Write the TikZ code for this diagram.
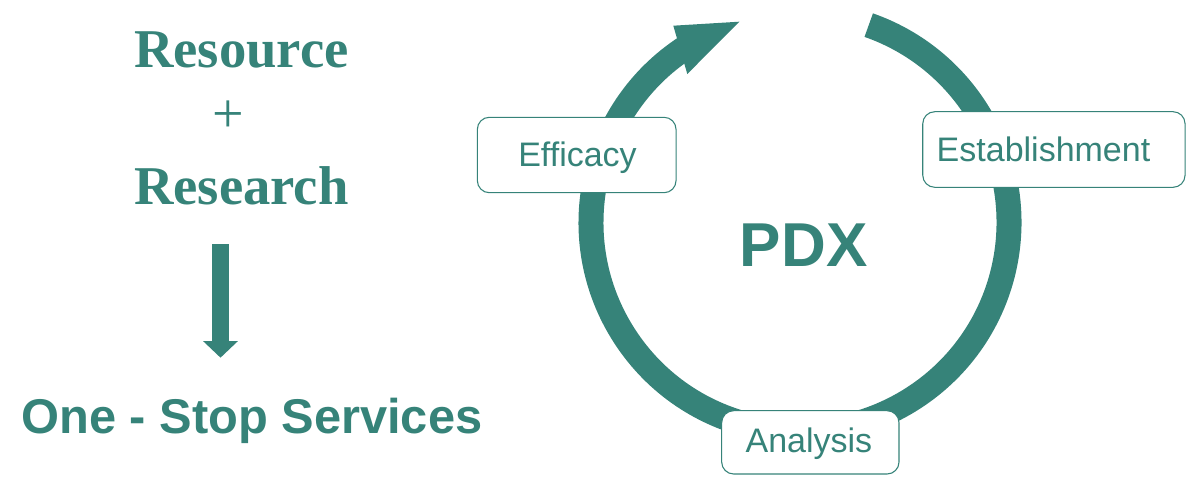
\documentclass[tikz,border=0pt]{standalone}
\usepackage{fontspec}
\setmainfont{Liberation Sans}
\newfontfamily\serifface{Liberation Serif}
\usetikzlibrary{arrows.meta}
\definecolor{pdxteal}{RGB}{54,131,121}
\begin{document}
\begin{tikzpicture}[x=0.75pt,y=0.75pt,
  box/.style={draw=pdxteal, line width=0.8pt, rounded corners=9pt, fill=white, inner sep=0pt},
  lbl/.style={text=pdxteal, font=\fontsize{25.5pt}{30pt}\selectfont, inner sep=0pt, anchor=base},
  serifhead/.style={text=pdxteal, font=\serifface\bfseries\fontsize{41pt}{49pt}\selectfont, inner sep=0pt, anchor=base},
  plussign/.style={text=pdxteal, font=\serifface\fontsize{42pt}{50pt}\selectfont, inner sep=0pt},
  bigsans/.style={text=pdxteal, font=\bfseries\fontsize{36.6pt}{44pt}\selectfont, inner sep=0pt, anchor=base},
  pdxlabel/.style={text=pdxteal, font=\bfseries\fontsize{46.5pt}{54pt}\selectfont, inner sep=0pt, anchor=base}
]
\useasboundingbox (0,0) rectangle (1199,487);

% ring
\coordinate (c) at (800,264.5);
\draw[pdxteal, line width=18.75pt] (c) ++(123:156.75pt) arc[start angle=123, end angle=430.8, radius=156.75pt];
\fill[pdxteal] (673.3,461.3) -- (739.3,465.3) -- (687.3,413) -- cycle;

% boxes
\node[box, minimum width=149pt, minimum height=56.55pt] (effbox) at (576.7,332) {};
\node[lbl] (eff) at (577.5,320.3) {Efficacy};
\node[box, minimum width=196.7pt, minimum height=56.7pt] (estbox) at (1053.9,337.5) {};
\node[lbl] (est) at (1043.5,325.3) {Establishment};
\node[box, minimum width=133pt, minimum height=47.5pt] (anabox) at (810.35,44.65) {};
\node[lbl] (ana) at (808.9,34.7) {Analysis};

\node[pdxlabel] (pdx) at (803.7,221) {PDX};

% left side
\node[serifhead] (res) at (241.5,419.3) {Resource};
\node[plussign] (plus) at (228.3,370.3) {+};
\node[serifhead] (rsch) at (241.3,282.7) {Research};
\coordinate (dtop) at (220.5,242.7);
\coordinate (dtip) at (220.5,129.3);
\draw[pdxteal, line width=12.75pt, -{Triangle[width=25.5pt,length=12.5pt]}] (dtop) -- (dtip);
\node[bigsans] (oss) at (251.85,53.7) {One - Stop Services};
\end{tikzpicture}
\end{document}
